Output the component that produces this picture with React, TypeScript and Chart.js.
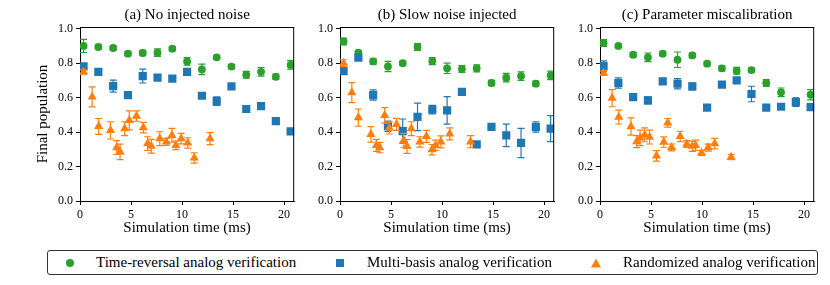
import React, { useEffect, useRef } from 'react';
import { Chart, registerables } from 'chart.js';

Chart.register(...registerables);

const GREEN = '#2ca02c';
const BLUE = '#1f77b4';
const ORANGE = '#ff7f0e';
const FONT = "'Liberation Serif', 'Times New Roman', serif";

Chart.defaults.font.family = FONT;
Chart.defaults.color = '#000';

const panelTitles = ['(a) No injected noise', '(b) Slow noise injected', '(c) Parameter miscalibration'];
const seriesNames = ['Time-reversal analog verification', 'Multi-basis analog verification', 'Randomized analog verification'];
const xAxisLabel = 'Simulation time (ms)';
const yAxisLabel = 'Final population';
const xTickValues = [0, 5, 10, 15, 20];
const yTickValues = [0, 0.2, 0.4, 0.6, 0.8, 1.0];

// shared sampling times for time-reversal and multi-basis series
const sharedTimes = [0.35, 1.8, 3.25, 4.7, 6.15, 7.6, 9.05, 10.5, 11.95, 13.4, 14.85, 16.3, 17.75, 19.2, 20.65];

// Panel (a)
const greenA = [0.9, 0.894, 0.888, 0.855, 0.859, 0.861, 0.884, 0.81, 0.764, 0.834, 0.78, 0.733, 0.75, 0.721, 0.79];
const greenAErr = [0.038, 0.012, 0.012, 0.012, 0.015, 0.022, 0.012, 0.022, 0.03, 0.012, 0.012, 0.02, 0.025, 0.015, 0.025];
const blueA = [0.781, 0.75, 0.667, 0.615, 0.725, 0.716, 0.71, 0.749, 0.611, 0.58, 0.665, 0.534, 0.551, 0.464, 0.404];
const blueAErr = [0.015, 0.012, 0.035, 0.018, 0.04, 0.012, 0.012, 0.015, 0.015, 0.025, 0.015, 0.015, 0.015, 0.015, 0.012];
const orangeAx = [0.35, 1.19, 1.83, 2.99, 3.6, 3.93, 4.38, 4.83, 5.54, 6.21, 6.63, 6.99, 7.82, 8.46, 9.01, 9.4, 9.92, 10.56, 11.2, 12.75];
const orangeA = [0.749, 0.604, 0.433, 0.41, 0.31, 0.285, 0.42, 0.468, 0.493, 0.426, 0.333, 0.318, 0.362, 0.343, 0.381, 0.323, 0.362, 0.337, 0.25, 0.362];
const orangeAErr = [0.012, 0.058, 0.046, 0.05, 0.04, 0.045, 0.04, 0.055, 0.03, 0.03, 0.04, 0.04, 0.04, 0.02, 0.04, 0.025, 0.03, 0.03, 0.03, 0.035];

// Panel (b)
const greenB = [0.926, 0.861, 0.81, 0.781, 0.8, 0.894, 0.812, 0.77, 0.766, 0.77, 0.685, 0.716, 0.725, 0.681, 0.729];
const greenBErr = [0.02, 0.01, 0.015, 0.03, 0.012, 0.02, 0.02, 0.03, 0.02, 0.02, 0.015, 0.025, 0.025, 0.015, 0.025];
const blueB = [0.754, 0.832, 0.615, 0.434, 0.406, 0.488, 0.53, 0.526, 0.633, 0.329, 0.43, 0.381, 0.337, 0.43, 0.42];
const blueBErr = [0.015, 0.012, 0.03, 0.03, 0.07, 0.08, 0.025, 0.08, 0.012, 0.015, 0.015, 0.065, 0.085, 0.03, 0.075];
const orangeBx = [0.35, 1.16, 1.8, 3.03, 3.57, 3.9, 4.38, 4.83, 5.54, 6.25, 6.57, 6.99, 7.83, 8.47, 9.02, 9.37, 9.89, 10.76, 12.8];
const orangeB = [0.8, 0.629, 0.484, 0.387, 0.323, 0.31, 0.497, 0.424, 0.445, 0.352, 0.317, 0.42, 0.343, 0.375, 0.298, 0.323, 0.343, 0.39, 0.344];
const orangeBErr = [0.02, 0.058, 0.05, 0.045, 0.035, 0.03, 0.045, 0.035, 0.035, 0.04, 0.04, 0.04, 0.03, 0.035, 0.03, 0.03, 0.035, 0.035, 0.035];

// Panel (c)
const greenC = [0.917, 0.9, 0.849, 0.834, 0.855, 0.82, 0.845, 0.797, 0.77, 0.756, 0.76, 0.685, 0.631, 0.58, 0.617];
const greenCErr = [0.02, 0.01, 0.012, 0.025, 0.012, 0.045, 0.012, 0.012, 0.015, 0.02, 0.012, 0.02, 0.025, 0.015, 0.03];
const blueC = [0.783, 0.685, 0.603, 0.584, 0.694, 0.681, 0.665, 0.542, 0.675, 0.7, 0.621, 0.542, 0.547, 0.574, 0.545];
const blueCErr = [0.03, 0.03, 0.012, 0.02, 0.012, 0.03, 0.02, 0.012, 0.012, 0.012, 0.045, 0.012, 0.012, 0.025, 0.012];
const orangeCx = [0.35, 1.19, 1.84, 3.03, 3.6, 3.93, 4.38, 4.86, 5.54, 6.25, 6.64, 7.02, 7.86, 8.5, 9.05, 9.37, 9.95, 10.6, 11.24, 12.85];
const orangeC = [0.743, 0.597, 0.487, 0.432, 0.345, 0.366, 0.384, 0.371, 0.262, 0.342, 0.454, 0.311, 0.375, 0.331, 0.318, 0.323, 0.279, 0.31, 0.333, 0.255];
const orangeCErr = [0.012, 0.05, 0.04, 0.05, 0.035, 0.045, 0.04, 0.04, 0.03, 0.03, 0.025, 0.02, 0.03, 0.02, 0.03, 0.03, 0.015, 0.02, 0.03, 0.015];

const panels = [
  { green: greenA, greenErr: greenAErr, blue: blueA, blueErr: blueAErr, ox: orangeAx, orange: orangeA, orangeErr: orangeAErr },
  { green: greenB, greenErr: greenBErr, blue: blueB, blueErr: blueBErr, ox: orangeBx, orange: orangeB, orangeErr: orangeBErr },
  { green: greenC, greenErr: greenCErr, blue: blueC, blueErr: blueCErr, ox: orangeCx, orange: orangeC, orangeErr: orangeCErr },
];

const errorBarPlugin = {
  id: 'errorBars',
  beforeDatasetDraw(chart: any, args: any) {
    const ds: any = chart.data.datasets[args.index];
    if (!ds.errors) return;
    const ctx = chart.ctx;
    const xs = chart.scales.x;
    const ys = chart.scales.y;
    const area = chart.chartArea;
    ctx.save();
    ctx.beginPath();
    ctx.rect(area.left, area.top, area.right - area.left, area.bottom - area.top);
    ctx.clip();
    ctx.strokeStyle = ds.backgroundColor;
    ctx.lineWidth = 1.2;
    ds.data.forEach((p: any, i: number) => {
      const e = ds.errors[i];
      const px = xs.getPixelForValue(p.x);
      const y1 = ys.getPixelForValue(p.y - e);
      const y2 = ys.getPixelForValue(p.y + e);
      const cap = 3.5;
      ctx.beginPath();
      ctx.moveTo(px, y1);
      ctx.lineTo(px, y2);
      ctx.moveTo(px - cap, y1);
      ctx.lineTo(px + cap, y1);
      ctx.moveTo(px - cap, y2);
      ctx.lineTo(px + cap, y2);
      ctx.stroke();
    });
    ctx.restore();
  },
};

const framePlugin = {
  id: 'frame',
  afterDraw(chart: any) {
    const { ctx, chartArea: a } = chart;
    ctx.save();
    ctx.strokeStyle = '#000';
    ctx.lineWidth = 1;
    ctx.beginPath();
    ctx.moveTo(a.left, a.top + 0.5);
    ctx.lineTo(a.right, a.top + 0.5);
    ctx.moveTo(a.right - 0.5, a.top);
    ctx.lineTo(a.right - 0.5, a.bottom);
    ctx.stroke();
    ctx.restore();
  },
};

function toPoints(xs: number[], ys: number[]) {
  return ys.map((y, i) => ({ x: xs[i], y }));
}

function Panel({ index, left }: { index: number; left: number }) {
  const ref = useRef<HTMLCanvasElement>(null);
  useEffect(() => {
    const p = panels[index];
    const tickFont = { family: FONT, size: 12, weight: 'normal' } as any;
    const labelFont = { family: FONT, size: 15, weight: 'normal', lineHeight: '16px' } as any;
    const chart = new Chart(ref.current as HTMLCanvasElement, {
      type: 'scatter',
      data: {
        datasets: [
          {
            label: seriesNames[0],
            data: toPoints(sharedTimes, p.green),
            errors: p.greenErr,
            backgroundColor: GREEN,
            borderWidth: 0,
            pointStyle: 'circle',
            pointRadius: 3.9,
            order: 3,
          } as any,
          {
            label: seriesNames[1],
            data: toPoints(sharedTimes, p.blue),
            errors: p.blueErr,
            backgroundColor: BLUE,
            borderWidth: 0,
            pointStyle: 'rect',
            pointRadius: 5.8,
            order: 2,
          } as any,
          {
            label: seriesNames[2],
            data: toPoints(p.ox, p.orange),
            errors: p.orangeErr,
            backgroundColor: ORANGE,
            borderWidth: 0,
            pointStyle: 'triangle',
            pointRadius: 5.3,
            order: 1,
          } as any,
        ],
      },
      options: {
        responsive: false,
        animation: false,
        font: { family: FONT },
        layout: { padding: { top: 0, right: 3, bottom: 0, left: 0 } },
        plugins: {
          legend: { display: false },
          tooltip: { enabled: false },
          title: {
            display: true,
            text: panelTitles[index],
            fullSize: false,
            color: '#000',
            font: labelFont,
            padding: { top: 7, bottom: 4 },
          },
        },
        scales: {
          x: {
            type: 'linear',
            min: 0,
            max: 21,
            afterFit: (s: any) => {
              s.height = 40;
            },
            afterBuildTicks: (s: any) => {
              s.ticks = xTickValues.map((v) => ({ value: v }));
            },
            ticks: {
              color: '#000',
              padding: 3,
              maxRotation: 0,
              font: tickFont,
              callback: (v: any) => String(v),
            },
            grid: { drawOnChartArea: false, drawTicks: true, tickLength: 4, color: '#000', lineWidth: 1 },
            border: { display: true, color: '#000', width: 1 },
            title: {
              display: true,
              text: xAxisLabel,
              color: '#000',
              font: labelFont,
              padding: { top: 0, bottom: 5 },
            },
          },
          y: {
            type: 'linear',
            min: 0,
            max: 1.01,
            afterFit: (s: any) => {
              s.width = 80;
            },
            afterBuildTicks: (s: any) => {
              s.ticks = yTickValues.map((v) => ({ value: v }));
            },
            ticks: {
              color: '#000',
              padding: 3,
              font: tickFont,
              callback: (v: any) => Number(v).toFixed(1),
            },
            grid: { drawOnChartArea: false, drawTicks: true, tickLength: 4, color: '#000', lineWidth: 1 },
            border: { display: true, color: '#000', width: 1 },
            title: {
              display: index === 0,
              text: yAxisLabel,
              color: '#000',
              font: labelFont,
              padding: { top: 35, bottom: 0 },
            },
          },
        },
      },
      plugins: [errorBarPlugin, framePlugin],
    } as any);
    return () => chart.destroy();
  }, [index]);
  return (
    <div style={{ position: 'absolute', left, top: 0, width: 300, height: 241 }}>
      <canvas ref={ref} width={300} height={241} style={{ display: 'block' }} />
    </div>
  );
}

function LegendMarker({ kind, color }: { kind: string; color: string }) {
  if (kind === 'circle') {
    return <div style={{ width: 8, height: 8, borderRadius: '50%', background: color }} />;
  }
  if (kind === 'square') {
    return <div style={{ width: 8, height: 8, background: color }} />;
  }
  return (
    <div
      style={{
        width: 0,
        height: 0,
        borderLeft: '5px solid transparent',
        borderRight: '5px solid transparent',
        borderBottom: `9px solid ${color}`,
      }}
    />
  );
}

const legendItems = [
  { kind: 'circle', color: GREEN, markerX: 22, textX: 48 },
  { kind: 'square', color: BLUE, markerX: 292, textX: 319 },
  { kind: 'triangle', color: ORANGE, markerX: 548, textX: 575 },
];

export default function App() {
  return (
    <div style={{ position: 'fixed', left: 0, top: 0, width: 830, height: 285, background: '#fff', overflow: 'hidden' }}>
      <Panel index={0} left={0} />
      <Panel index={1} left={260} />
      <Panel index={2} left={520} />
      <div
        style={{
          position: 'absolute',
          left: 47,
          top: 250,
          width: 769,
          height: 23,
          border: '1px solid #333',
          borderRadius: 3,
          fontFamily: FONT,
          fontSize: 15,
          color: '#000',
        }}
      >
        {legendItems.map((it, i) => (
          <React.Fragment key={i}>
            <div
              style={{
                position: 'absolute',
                left: it.markerX,
                top: 12,
                transform: 'translate(-50%, -50%)',
              }}
            >
              <LegendMarker kind={it.kind} color={it.color} />
            </div>
            <div
              style={{
                position: 'absolute',
                left: it.textX,
                top: 0,
                height: 23,
                lineHeight: '23px',
                whiteSpace: 'nowrap',
              }}
            >
              {seriesNames[i]}
            </div>
          </React.Fragment>
        ))}
      </div>
    </div>
  );
}
